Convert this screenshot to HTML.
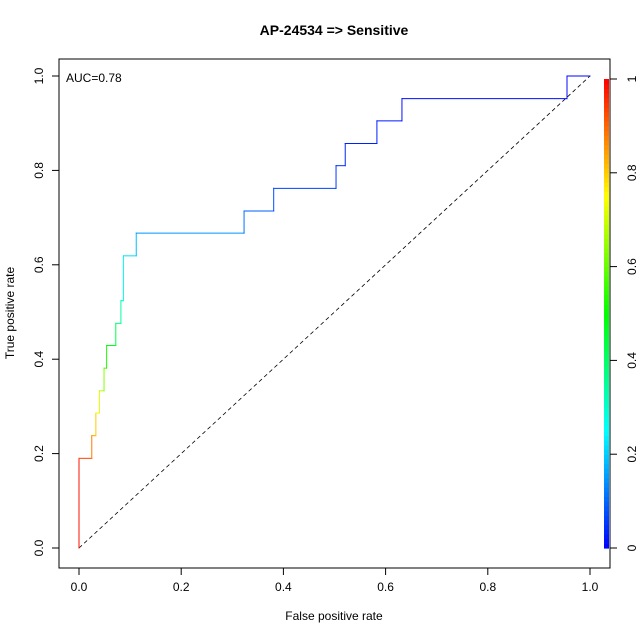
<!DOCTYPE html>
<html><head><meta charset="utf-8"><style>body{margin:0;background:#fff}svg{display:block;font-family:"Liberation Sans",sans-serif}</style></head>
<body>
<svg id="chart" width="640" height="640" viewBox="0 0 640 640">
<rect x="0" y="0" width="640" height="640" fill="#fff"/>
<text x="334" y="35" text-anchor="middle" font-size="14" font-weight="bold">AP-24534 =&gt; Sensitive</text>
<rect x="59" y="59" width="551" height="509" fill="none" stroke="#000" stroke-width="1"/>
<text x="334" y="620" text-anchor="middle" font-size="12">False positive rate</text>
<text transform="translate(14,313) rotate(-90)" text-anchor="middle" font-size="12">True positive rate</text>
<text x="66" y="82" font-size="12">AUC=0.78</text>
<g id="axes"></g>
<g id="marks"></g>
</svg>
<script>
const fpr = [0,0,0.025,0.025,0.033,0.033,0.04,0.04,0.049,0.049,0.054,0.054,0.072,0.072,0.082,0.082,0.087,0.087,0.112,0.112,0.323,0.323,0.381,0.381,0.503,0.503,0.521,0.521,0.583,0.583,0.632,0.632,0.955,0.955,1];
const tpr = [0,0.19,0.19,0.238,0.238,0.286,0.286,0.333,0.333,0.381,0.381,0.429,0.429,0.476,0.476,0.524,0.524,0.619,0.619,0.667,0.667,0.714,0.714,0.762,0.762,0.81,0.81,0.857,0.857,0.905,0.905,0.952,0.952,1,1];
const cutoff = [1,0.97,0.9,0.86,0.82,0.78,0.74,0.7,0.66,0.6,0.55,0.5,0.45,0.4,0.36,0.32,0.28,0.24,0.2,0.17,0.12,0.1,0.08,0.07,0.06,0.05,0.04,0.035,0.03,0.025,0.02,0.015,0.01,0.005,0];
const xTicks = [0,0.2,0.4,0.6,0.8,1];
const xTickLabels = ["0.0","0.2","0.4","0.6","0.8","1.0"];
const yTicks = [0,0.2,0.4,0.6,0.8,1];
const yTickLabels = ["0.0","0.2","0.4","0.6","0.8","1.0"];
const cTicks = [0,0.2,0.4,0.6,0.8,1];
const cTickLabels = ["0","0.2","0.4","0.6","0.8","1"];

const NS="http://www.w3.org/2000/svg";
const X = v => 79 + v*511;
const Y = v => 548 - v*472;
const col = c => `hsl(${(1-c)*240},100%,50%)`;
function mk(tag, attrs, parent){const e=document.createElementNS(NS,tag);for(const k in attrs)e.setAttribute(k,attrs[k]);parent.appendChild(e);return e;}
const axes=document.getElementById('axes'), marks=document.getElementById('marks');

mk('line',{x1:X(0),y1:568,x2:X(1),y2:568,stroke:'#000'},axes);
xTicks.forEach((t,i)=>{
  const l=mk('line',{x1:X(t),y1:568,x2:X(t),y2:575,stroke:'#000'},axes);
  
  
  const tx=mk('text',{x:X(t),y:591,'text-anchor':'middle','font-size':12},axes);tx.textContent=xTickLabels[i];
  
  
});
mk('line',{x1:59,y1:Y(0),x2:59,y2:Y(1),stroke:'#000'},axes);
yTicks.forEach((t,i)=>{
  const l=mk('line',{x1:52,y1:Y(t),x2:59,y2:Y(t),stroke:'#000'},axes);
  
  
  const tx=mk('text',{transform:`translate(43,${Y(t)}) rotate(-90)`,'text-anchor':'middle','font-size':12},axes);tx.textContent=yTickLabels[i];
  
  
});
// color bar
const CB = v => 548 - v*469;
for(let i=0;i<100;i++){
  const r=mk('rect',{x:604,y:CB((i+1)/100),width:5,height:469/100+0.6,fill:col((i+0.5)/100)},axes);
  
  
}
mk('line',{x1:610,y1:CB(0),x2:610,y2:CB(1),stroke:'#000'},axes);
cTicks.forEach((t,i)=>{
  const l=mk('line',{x1:610,y1:CB(t),x2:617,y2:CB(t),stroke:'#000'},axes);
  
  
  const tx=mk('text',{transform:`translate(636,${CB(t)}) rotate(-90)`,'text-anchor':'middle','font-size':12},axes);tx.textContent=cTickLabels[i];
  
  
});
// diagonal
const d=mk('line',{x1:X(0),y1:Y(0),x2:X(1),y2:Y(1),stroke:'#000','stroke-dasharray':'4,3','stroke-width':0.8},marks);


// roc segments
for(let i=0;i<fpr.length-1;i++){
  const s=mk('line',{x1:X(fpr[i]),y1:Y(tpr[i]),x2:X(fpr[i+1]),y2:Y(tpr[i+1]),stroke:col((cutoff[i]+cutoff[i+1])/2),'stroke-width':1,'stroke-linecap':'square'},marks);
  
  
}
</script>
</body></html>
